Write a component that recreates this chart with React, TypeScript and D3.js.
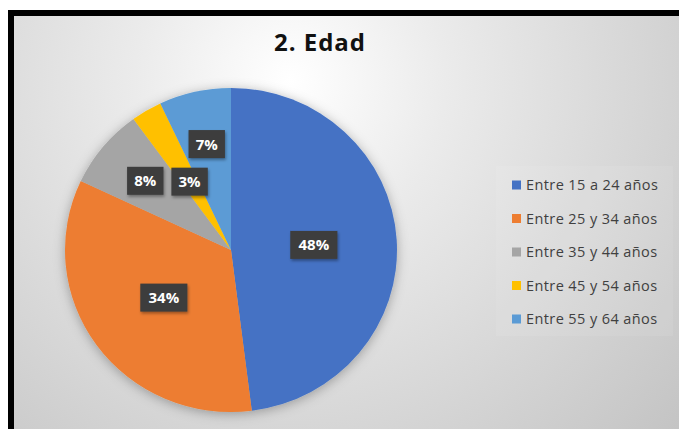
import React from "react";
import * as d3 from "d3";

const categories = [
  "Entre 15 a 24 años",
  "Entre 25 y 34 años",
  "Entre 35 y 44 años",
  "Entre 45 y 54 años",
  "Entre 55 y 64 años",
];
const values = [48, 34, 8, 3, 7];
const labels = ["48%", "34%", "8%", "3%", "7%"];
const colors = ["#4472C4", "#ED7D31", "#A5A5A5", "#FFC000", "#5B9BD5"];
// layout: label distance from centre as fraction of radius
const labelRadiusFactor = [0.5, 0.5, 0.67, 0.49, 0.67];

const W = 679;
const H = 429;
const cx = 231;
const cy = 250;
const R = 166;

export default function App() {
  const pie = d3.pie<number>().sort(null).value((d) => d)(values);
  const arc = d3.arc<d3.PieArcDatum<number>>().innerRadius(0).outerRadius(R);
  const legendY = d3.scalePoint<number>().domain(d3.range(categories.length)).range([185, 319]);

  return (
    <svg
      width={W}
      height={H}
      style={{ position: "absolute", left: 0, top: 0, display: "block" }}
      fontFamily="'Open Sans', 'Noto Sans', sans-serif"
    >
      <defs>
        <radialGradient id="bg" gradientUnits="userSpaceOnUse" cx={290} cy={80} r={520}>
          <stop offset="0" stopColor="#ffffff" />
          <stop offset="0.3" stopColor="#ebebeb" />
          <stop offset="1" stopColor="#c4c4c4" />
        </radialGradient>
        <filter id="shadow" x="-20%" y="-20%" width="140%" height="140%">
          <feDropShadow dx="0" dy="2" stdDeviation="6" floodColor="#000" floodOpacity="0.3" />
        </filter>
        <filter id="lblShadow" x="-30%" y="-30%" width="160%" height="160%">
          <feDropShadow dx="1" dy="2" stdDeviation="1.5" floodColor="#000" floodOpacity="0.35" />
        </filter>
      </defs>
      <rect x={0} y={0} width={W} height={H} fill="#ffffff" />
      <rect x={11} y={13} width={W + 20} height={H + 20} fill="url(#bg)" stroke="#000" strokeWidth={6} />

      <text x={320} y={51} textAnchor="middle" fontSize={24} fontWeight={700} letterSpacing={1} fill="#111">
        2. Edad
      </text>

      <g transform={`translate(${cx},${cy}) scale(1,0.976)`} filter="url(#shadow)">
        {pie.map((p, i) => (
          <path key={i} d={arc(p) || ""} fill={colors[i]} />
        ))}
      </g>

      {pie.map((p, i) => {
        const mid = (p.startAngle + p.endAngle) / 2;
        const r = R * labelRadiusFactor[i];
        const x = cx + r * Math.sin(mid);
        const y = cy - r * Math.cos(mid) * 0.976;
        const w = 15 + labels[i].length * 10.7;
        const h = 28;
        return (
          <g key={i}>
            <rect x={x - w / 2} y={y - h / 2} width={w} height={h} fill="#3c3c3c" filter="url(#lblShadow)" />
            <text x={x} y={y + 5.5} textAnchor="middle" fontSize={15} fontWeight={700} fill="#ffffff">
              {labels[i]}
            </text>
          </g>
        );
      })}

      <rect x={496} y={166} width={177} height={170} fill="#ffffff" fillOpacity={0.08} />
      {categories.map((c, i) => {
        const y = legendY(i) as number;
        return (
          <g key={c}>
            <rect x={512} y={y - 4.5} width={9} height={9} fill={colors[i]} />
            <text x={526} y={y + 5} fontSize={14.5} letterSpacing={0.4} fill="#404040">
              {c}
            </text>
          </g>
        );
      })}
    </svg>
  );
}
